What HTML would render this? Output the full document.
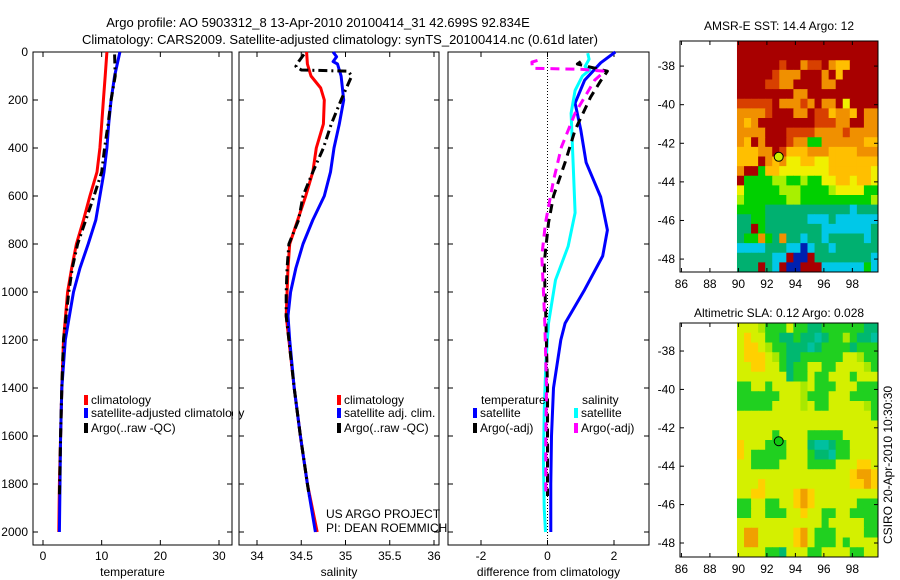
<!DOCTYPE html>
<html><head><meta charset="utf-8"><style>
body{margin:0;background:#fff;}
svg{display:block;font-family:"Liberation Sans",sans-serif;}
</style></head><body>
<svg id="fig" width="900" height="580" viewBox="0 0 900 580" xmlns="http://www.w3.org/2000/svg">
<rect width="900" height="580" fill="#fff"/>
<text x="318" y="27" font-size="13" text-anchor="middle">Argo profile: AO 5903312_8 13-Apr-2010 20100414_31 42.699S 92.834E</text>
<text x="340" y="44" font-size="13" text-anchor="middle">Climatology: CARS2009. Satellite-adjusted climatology: synTS_20100414.nc (0.61d later)</text>
<text x="779" y="30" font-size="12" text-anchor="middle">AMSR-E SST: 14.4 Argo: 12</text>
<text x="779" y="317" font-size="12" text-anchor="middle">Altimetric SLA: 0.12 Argo: 0.028</text>
<text transform="translate(892,465) rotate(-90)" font-size="12" text-anchor="middle">CSIRO 20-Apr-2010 10:30:30</text>
<g id="g"></g>
</svg>
<script>
// ---- data ----
const tDepth = [0,100,200,300,400,500,600,700,800,900,1000,1200,1400,1600,1800,2000];
const tClim = [10.9,10.6,10.3,10.0,9.7,9.2,8.0,6.9,5.7,4.9,4.2,3.5,3.2,3.0,2.8,2.7];
const tSat = [13.1,12.2,11.6,11.2,10.9,10.4,9.7,9.0,7.7,6.3,5.2,3.8,3.2,3.0,2.9,2.8];
const tArgoDepth = [10,100,200,300,400,500,600,700,800,900,1000,1200,1400,1600,1850];
const tArgo = [12.2,12.3,11.6,11.1,10.5,10.0,8.7,7.3,5.9,5.0,4.4,3.5,3.2,3.0,2.8];

const sClimDepth = [0,50,100,150,200,300,400,500,600,700,800,900,1000,1100,1200,1400,1600,1800,2000];
const sClim = [34.56,34.57,34.61,34.72,34.76,34.75,34.67,34.63,34.55,34.46,34.37,34.35,34.34,34.33,34.36,34.42,34.49,34.57,34.68];
const sSatDepth = [0,20,40,50,100,200,300,400,500,600,700,800,900,1000,1100,1200,1400,1600,1800,2000];
const sSat = [34.86,34.9,34.86,34.91,34.95,34.98,34.93,34.87,34.83,34.76,34.63,34.52,34.44,34.38,34.35,34.37,34.42,34.49,34.57,34.66];
const sArgoDepth = [10,40,60,75,80,100,200,300,400,500,600,700,800,900,1000,1100,1200,1400,1600,1850];
const sArgo = [34.53,34.47,34.44,34.5,35.03,35.07,34.95,34.84,34.75,34.63,34.52,34.47,34.36,34.34,34.33,34.33,34.36,34.42,34.49,34.59];

const dSalSatDepth = [5,30,60,75,100,160,255,460,670,810,950,1130,1300,1500,1700,1900,2000];
const dSalSat = [1.21,1.25,1.13,1.27,1.05,0.83,0.71,0.77,0.83,0.62,0.24,0.03,-0.05,-0.1,-0.12,-0.1,-0.06];
const dTempSatDepth = [0,45,117,213,325,460,604,742,850,990,1130,1200,1400,1600,1800,2000];
const dTempSat = [2.04,1.6,1.12,0.83,1.0,1.16,1.6,1.8,1.66,1.12,0.53,0.4,0.18,0.12,0.1,0.1];
const dTempArgoDepth = [40,50,80,120,187,325,460,600,712,880,1100,1400,1600,1850];
const dTempArgo = [1.0,0.9,1.8,1.6,1.3,0.83,0.53,0.18,0.03,-0.1,-0.05,0.0,0.0,0.0];
const dSalArgoDepth = [35,42,68,72,80,117,255,395,535,712,850,1000,1130,1400,1600,1850];
const dSalArgo = [-0.3,-0.47,-0.45,1.0,1.72,1.42,0.83,0.42,0.18,-0.06,-0.17,-0.12,-0.08,-0.03,-0.05,-0.05];

const depthTicks = [0,200,400,600,800,1000,1200,1400,1600,1800,2000];
const tTicks = [0,10,20,30];
const sTicks = [34,34.5,35,35.5,36];
const dTicks = [-2,0,2];
const lonTicks = [86,88,90,92,94,96,98];
const latTicks = [-38,-40,-42,-44,-46,-48];

const sstRows = [
"99999999999999999999","99999999999999999999","99999989978897669999","99999877799979699999",
"99998877999977999999","99999999779999999999","88888977787977959999","77778999779886776977",
"76799999999888779977","77779998888777787777","76979998773377777766","66677986667776666777",
"66697675566556666666","79936655555556666665","93333443343355665665","53333344433334555533",
"43333334433333333334","33332222222222221222","22332222221112111111","22932222222211111112",
"23373272212212222212","11112221101221222222","22222119009222222221","22292190099911111131"];
const slaRows = [
"44432224221122222211","45442211211012232110","45543221110122221222","45554321122222244322",
"44554421224422444432","44444441224224442444","22442444434222444222","22222244432224442222",
"22222444434224444432","44444444444444444442","44444444444444444444","44444244442222244444",
"54442224441001224444","54222224442110224444","44222244442222444554","44444444444444445665",
"44454444444444445565","44554444565444444444","22442244565444444222","22442224454422442222",
"44444444444424444422","46644444564222444422","46644444564222424444","44442214442244442244"];
const floatLon = 92.83, floatLat = -42.7;

// ---- drawing ----
const NS="http://www.w3.org/2000/svg";
const G=document.getElementById('g');
function el(tag,attrs,parent){const e=document.createElementNS(NS,tag);for(const k in attrs)e.setAttribute(k,attrs[k]);(parent||G).appendChild(e);return e;}
function lin(d0,d1,p0,p1){return v=>p0+(v-d0)*(p1-p0)/(d1-d0);}
const yDepth = lin(0,2000,52,532);
const PB=545, PT=52;

function panel(name,x0,x1,xs,ticks,fmt,xlabel,showY){
  const fr=el('rect',{x:x0,y:PT,width:x1-x0,height:PB-PT,fill:'none',stroke:'#000','stroke-width':1});
  
  
  ticks.forEach(t=>{const x=xs(t);
    el('line',{x1:x,x2:x,y1:PB,y2:PB-5,stroke:'#000'});el('line',{x1:x,x2:x,y1:PT,y2:PT+5,stroke:'#000'});
    const tx=el('text',{x:x,y:PB+15,'font-size':12,'text-anchor':'middle'});tx.textContent=fmt(t);
    
    });
  depthTicks.forEach(d=>{const y=yDepth(d);
    el('line',{x1:x0,x2:x0+5,y1:y,y2:y,stroke:'#000'});el('line',{x1:x1,x2:x1-5,y1:y,y2:y,stroke:'#000'});
    if(showY){const tx=el('text',{x:x0-5,y:y+4,'font-size':12,'text-anchor':'end'});tx.textContent=d;
      
      }});
  const xl=el('text',{x:(x0+x1)/2,y:576,'font-size':12,'text-anchor':'middle'});xl.textContent=xlabel;
  
  
}
function series(name,xs,depths,vals,color,dash){
  const pts=depths.map((d,i)=>xs(vals[i]).toFixed(1)+','+yDepth(d).toFixed(1)).join(' ');
  const p=el('polyline',{points:pts,fill:'none',stroke:color,'stroke-width':3,'stroke-linejoin':'round'});
  if(dash)p.setAttribute('stroke-dasharray',dash);
  
  
}
function legend(name,x,y,color,label){
  const r=el('rect',{x:x,y:y-5,width:4,height:10,fill:color});
  
  
  const t=el('text',{x:x+7,y:y+4,'font-size':12});t.textContent=label;
  
  
}

// Panel 1
const xT=lin(0,30,43,219);
panel('temperature-panel',33,232,xT,tTicks,t=>t,'temperature',true);
series('temp-climatology-line',xT,tDepth,tClim,'#f00');
series('temp-satellite-line',xT,tDepth,tSat,'#00f');
series('temp-argo-line',xT,tArgoDepth,tArgo,'#000','9,4,2,4');
legend('legend-climatology',84,400,'#f00','climatology');
legend('legend-satellite-adjusted',84,413,'#00f','satellite-adjusted climatology');
legend('legend-argo-raw',84,428,'#000','Argo(..raw -QC)');
el('rect',{x:233,y:390,width:5,height:50,fill:'#fff'});

// Panel 2
const xS=lin(34,36,257,434);
panel('salinity-panel',239,439,xS,sTicks,t=>t,'salinity',false);
series('sal-climatology-line',xS,sClimDepth,sClim,'#f00');
series('sal-satellite-line',xS,sSatDepth,sSat,'#00f');
series('sal-argo-line',xS,sArgoDepth,sArgo,'#000','9,4,2,4');
legend('legend-sal-climatology',337,400,'#f00','climatology');
legend('legend-sal-satellite',337,413,'#00f','satellite adj. clim.');
legend('legend-sal-argo',337,428,'#000','Argo(..raw -QC)');
const u1=el('text',{x:326,y:518,'font-size':12});u1.textContent='US ARGO PROJECT';


const u2=el('text',{x:326,y:532,'font-size':12});u2.textContent='PI: DEAN ROEMMICH';



// Panel 3
const xD=lin(-2,2,481,614);
panel('difference-panel',448,649,xD,dTicks,t=>t,'difference from climatology',false);
el('line',{x1:xD(0),x2:xD(0),y1:PT,y2:PB,stroke:'#000','stroke-width':1,'stroke-dasharray':'1,2'});
series('diff-temp-satellite-line',xD,dTempSatDepth,dTempSat,'#00f');
series('diff-sal-satellite-line',xD,dSalSatDepth,dSalSat,'#0ff');
series('diff-temp-argo-line',xD,dTempArgoDepth,dTempArgo,'#000','9,6');
series('diff-sal-argo-line',xD,dSalArgoDepth,dSalArgo,'#f0f','9,6');
const lt=el('text',{x:481,y:404,'font-size':12});lt.textContent='temperature';


const ls=el('text',{x:582,y:404,'font-size':12});ls.textContent='salinity';


legend('legend-diff-temp-satellite',473,413,'#00f','satellite');
legend('legend-diff-temp-argo',473,428,'#000','Argo(-adj)');
legend('legend-diff-sal-satellite',574,413,'#0ff','satellite');
legend('legend-diff-sal-argo',574,428,'#f0f','Argo(-adj)');

// Maps
const sstCol={'9':'#a80000','8':'#d84000','7':'#f09000','6':'#ffbf00','5':'#f0f000','4':'#a8f000','3':'#00d000','2':'#00b070','1':'#00c8e8','0':'#0020b0'};
const slaCol={'6':'#f0a000','5':'#ffd000','4':'#d4f000','3':'#a8e800','2':'#20d020','1':'#00b870','0':'#00c0a0'};
function map(name,top,bot,lat0,lat1,rows,cols,dotColor){
  const xL=lin(85.9,99.8,680,878), yL=lin(lat0,lat1,top,bot);
  const nr=rows.length, nc=rows[0].length, lonA=89.9, lonB=99.8;
  rows.forEach((row,r)=>{for(let c=0;c<nc;c++){
    const la=lat0+(lat1-lat0)*r/nr, lb=lat0+(lat1-lat0)*(r+1)/nr;
    const lo=lonA+(lonB-lonA)*c/nc, lo2=lonA+(lonB-lonA)*(c+1)/nc;
    const cell=el('rect',{x:xL(lo),y:yL(la),width:xL(lo2)-xL(lo)+0.5,height:yL(lb)-yL(la)+0.5,fill:cols[row[c]]});
    
    }});
  const fr=el('rect',{x:680,y:top,width:198,height:bot-top,fill:'none',stroke:'#000'});
  
  
  lonTicks.forEach(l=>{const x=xL(l);
    el('line',{x1:x,x2:x,y1:bot,y2:bot-4,stroke:'#000'});el('line',{x1:x,x2:x,y1:top,y2:top+4,stroke:'#000'});
    const t=el('text',{x:x,y:bot+16,'font-size':12,'text-anchor':'middle'});t.textContent=l;
    
    });
  latTicks.forEach(l=>{const y=yL(l);
    el('line',{x1:680,x2:684,y1:y,y2:y,stroke:'#000'});el('line',{x1:878,x2:874,y1:y,y2:y,stroke:'#000'});
    const t=el('text',{x:675,y:y+4,'font-size':12,'text-anchor':'end'});t.textContent=l;
    
    });
  const dot=el('circle',{cx:xL(floatLon),cy:yL(floatLat),r:4.5,fill:dotColor,stroke:'#000','stroke-width':1});
  
  
}
map('sst-map',41,272,-36.7,-48.67,sstRows,sstCol,'#c8f000');
map('sla-map',323,557,-36.54,-48.73,slaRows,slaCol,'#10c810');
</script>
</body></html>
